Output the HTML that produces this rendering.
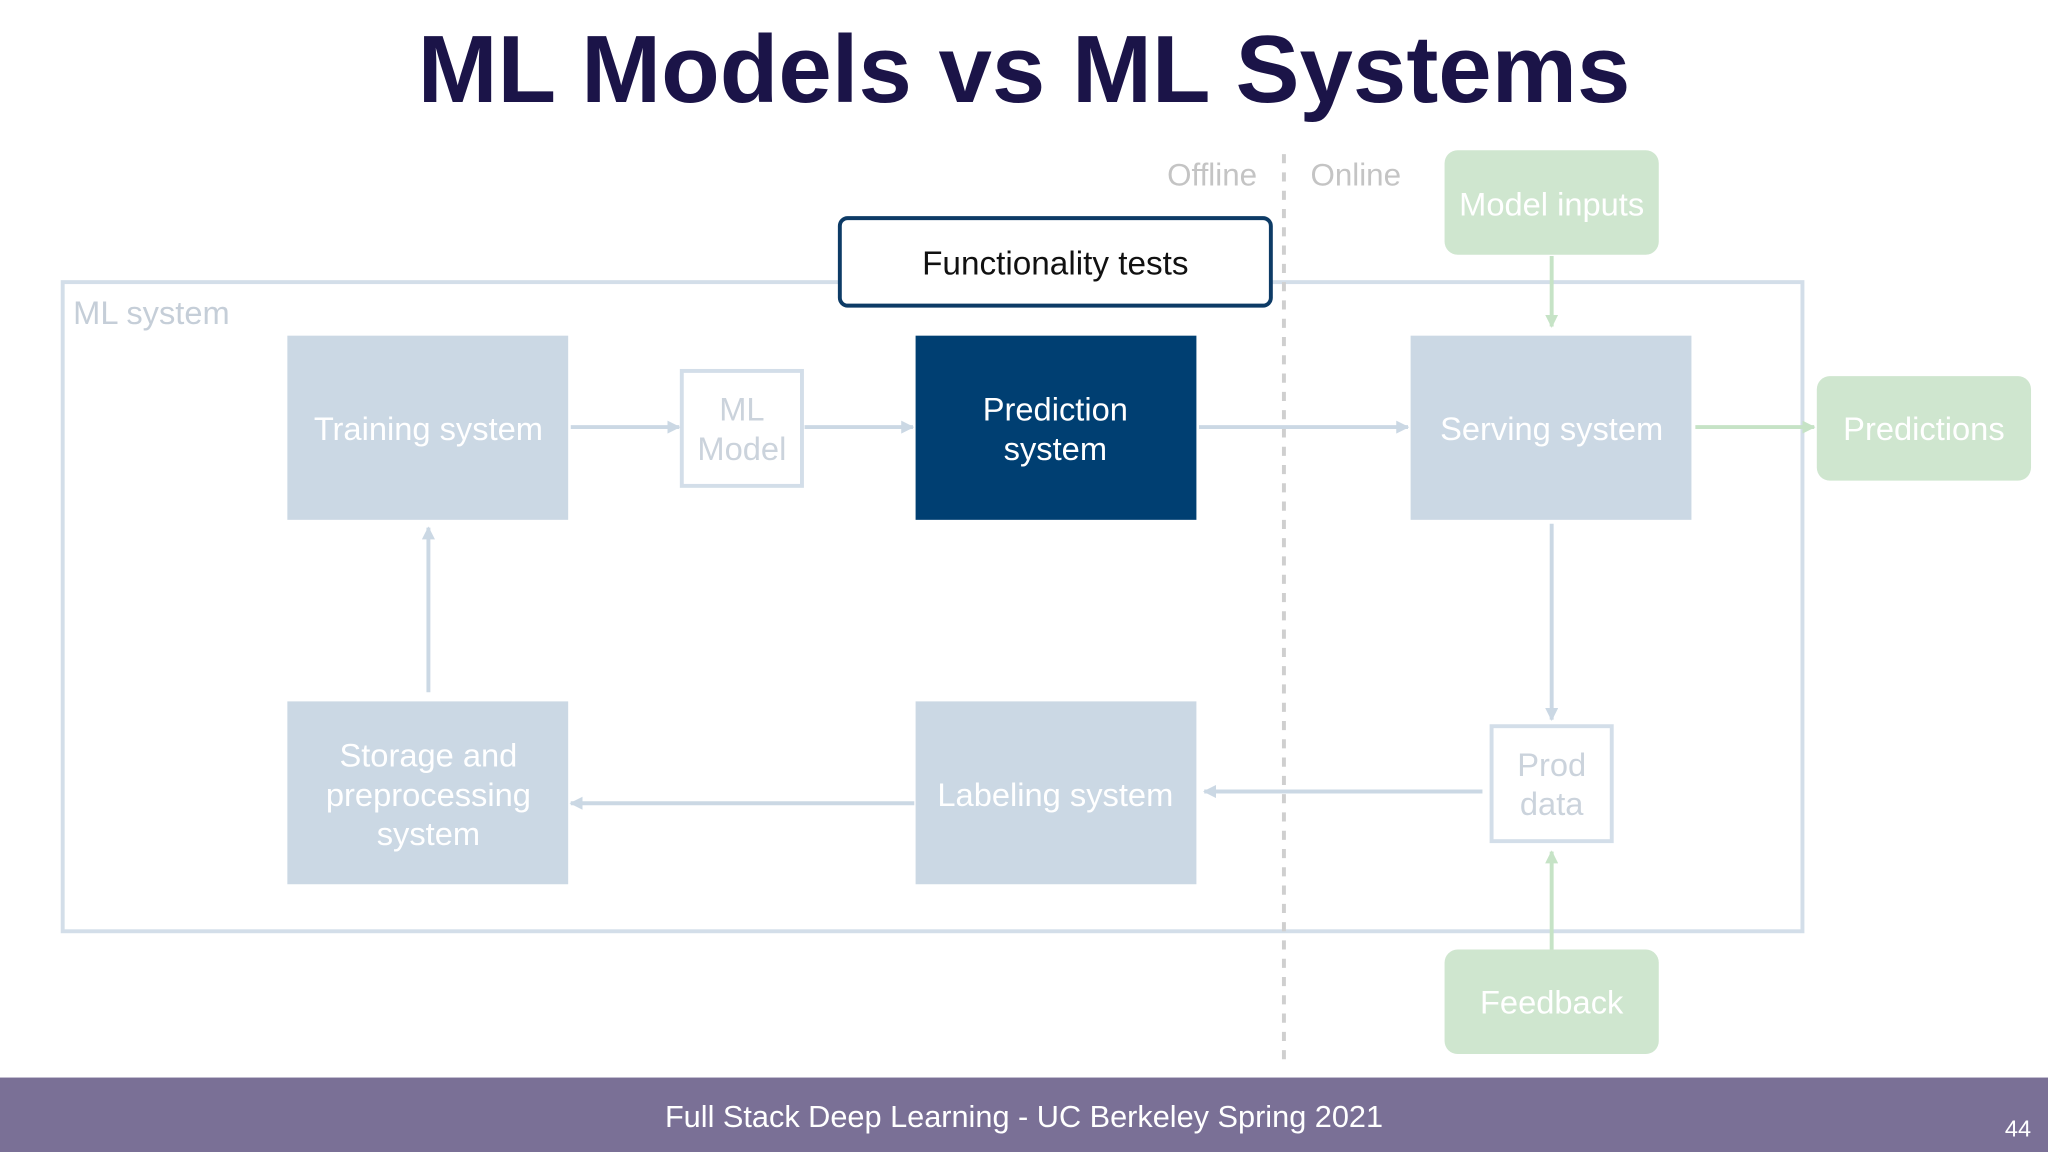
<!DOCTYPE html>
<html><head><meta charset="utf-8"><style>
html,body{margin:0;padding:0;background:#fff;}
svg{display:block;}
text{font-family:"Liberation Sans",Arial,sans-serif;}
</style></head><body>
<svg width="2048" height="1152" viewBox="0 0 1568 882" xmlns="http://www.w3.org/2000/svg">
<defs>
<marker id="ab" markerWidth="10" markerHeight="10" refX="9" refY="5" orient="auto" markerUnits="userSpaceOnUse"><path d="M0,0 L10,5 L0,10 z" fill="#cbd8e4"/></marker>
<marker id="ag" markerWidth="10" markerHeight="10" refX="9" refY="5" orient="auto" markerUnits="userSpaceOnUse"><path d="M0,0 L10,5 L0,10 z" fill="#c6e3c6"/></marker>
</defs>
<rect width="1568" height="882" fill="#fff"/>
<text x="784" y="78" font-size="73.5" font-weight="bold" fill="#1b1448" text-anchor="middle">ML Models vs ML Systems</text>

<rect x="48" y="216" width="1332" height="497" fill="none" stroke="#d3dee9" stroke-width="3"/>
<text x="56" y="248" font-size="25" fill="#c5ced8">ML system</text>

<line x1="983" y1="118" x2="983" y2="812" stroke="#cfcfcf" stroke-width="3" stroke-dasharray="7,7"/>
<text x="928" y="142" font-size="24" fill="#c4c4c4" text-anchor="middle">Offline</text>
<text x="1038" y="142" font-size="24" fill="#c4c4c4" text-anchor="middle">Online</text>

<g font-size="25" fill="#fff" text-anchor="middle">
<rect x="220" y="257" width="215" height="141" fill="#cbd8e4"/>
<text x="328" y="337">Training system</text>
<rect x="522" y="284" width="92" height="88" fill="#fff" stroke="#d3dee9" stroke-width="3"/>
<text x="568" y="322" fill="#cbd3dc">ML</text><text x="568" y="352" fill="#cbd3dc">Model</text>
<rect x="701" y="257" width="215" height="141" fill="#003f72"/>
<text x="808" y="322">Prediction</text><text x="808" y="352">system</text>
<rect x="1080" y="257" width="215" height="141" fill="#cbd8e4"/>
<text x="1188" y="337">Serving system</text>
<rect x="220" y="537" width="215" height="140" fill="#cbd8e4"/>
<text x="328" y="587">Storage and</text><text x="328" y="617">preprocessing</text><text x="328" y="647">system</text>
<rect x="701" y="537" width="215" height="140" fill="#cbd8e4"/>
<text x="808" y="617">Labeling system</text>
<rect x="1142" y="556" width="92" height="88" fill="#fff" stroke="#d3dee9" stroke-width="3"/>
<text x="1188" y="594" fill="#cbd3dc">Prod</text><text x="1188" y="624" fill="#cbd3dc">data</text>
<rect x="1106" y="115" width="164" height="80" rx="10" fill="#cfe6cf"/>
<text x="1188" y="165">Model inputs</text>
<rect x="1391" y="288" width="164" height="80" rx="10" fill="#cfe6cf"/>
<text x="1473" y="337">Predictions</text>
<rect x="1106" y="727" width="164" height="80" rx="10" fill="#cfe6cf"/>
<text x="1188" y="776">Feedback</text>
</g>

<g stroke="#cbd8e4" stroke-width="3" fill="none">
<line x1="437" y1="327" x2="520" y2="327" marker-end="url(#ab)"/>
<line x1="616" y1="327" x2="699" y2="327" marker-end="url(#ab)"/>
<line x1="918" y1="327" x2="1078" y2="327" marker-end="url(#ab)"/>
<line x1="1188" y1="401" x2="1188" y2="551" marker-end="url(#ab)"/>
<line x1="1135" y1="606" x2="922" y2="606" marker-end="url(#ab)"/>
<line x1="700" y1="615" x2="437" y2="615" marker-end="url(#ab)"/>
<line x1="328" y1="530" x2="328" y2="404" marker-end="url(#ab)"/>
</g>
<g stroke="#c6e3c6" stroke-width="3" fill="none">
<line x1="1188" y1="196" x2="1188" y2="250" marker-end="url(#ag)"/>
<line x1="1298" y1="327" x2="1389" y2="327" marker-end="url(#ag)"/>
<line x1="1188" y1="727" x2="1188" y2="652" marker-end="url(#ag)"/>
</g>

<rect x="643" y="167" width="330" height="67" rx="6" fill="#fff" stroke="#0d3b66" stroke-width="3"/>
<text x="808" y="210" font-size="25.5" fill="#111" text-anchor="middle">Functionality tests</text>

<rect x="0" y="825" width="1568" height="57" fill="#7a7096"/>
<text x="784" y="863" font-size="23.5" fill="#fff" text-anchor="middle">Full Stack Deep Learning - UC Berkeley Spring 2021</text>
<text x="1545" y="870" font-size="18" fill="#fff" text-anchor="middle">44</text>
</svg>
</body></html>
